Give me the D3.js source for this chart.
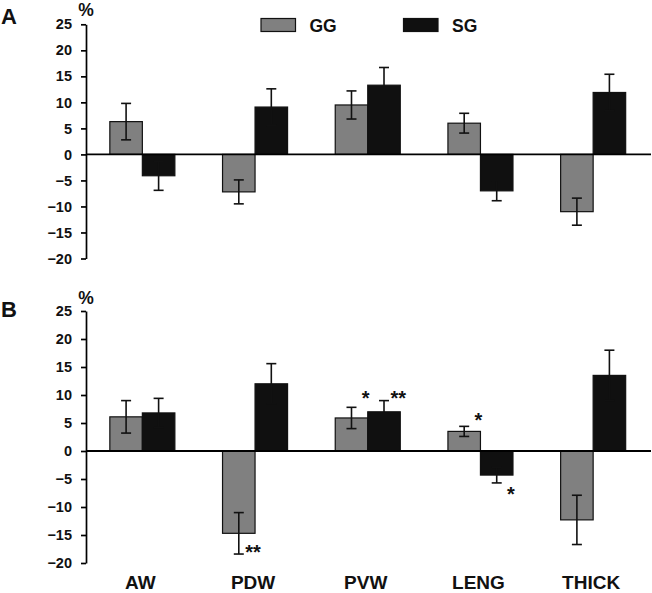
<!DOCTYPE html>
<html><head><meta charset="utf-8">
<script src="https://cdn.jsdelivr.net/npm/d3@7/dist/d3.min.js"></script>
<style>
html,body{margin:0;padding:0;background:#fff;}
svg{display:block;font-family:"Liberation Sans",Arial,sans-serif;font-weight:bold;}
</style></head>
<body>
<svg id="chart" width="652" height="593"></svg>
<script>
// ---- data ----
const categories = ["AW", "PDW", "PVW", "LENG", "THICK"];
const seriesNames = ["GG", "SG"];
const yTicks = [25, 20, 15, 10, 5, 0, -5, -10, -15, -20];

// Panel A
const ggA    = [6.3, -7.2, 9.5, 6.0, -11.0];
const ggAErr = [3.5, 2.3, 2.7, 1.9, 2.6];
const sgA    = [-4.1, 9.1, 13.3, -7.0, 11.9];
const sgAErr = [2.8, 3.5, 3.4, 1.9, 3.5];

// Panel B
const ggB    = [6.1, -14.7, 5.9, 3.5, -12.3];
const ggBErr = [2.9, 3.7, 1.9, 0.9, 4.4];
const sgB    = [6.8, 12.0, 7.0, -4.3, 13.5];
const sgBErr = [2.6, 3.6, 2.0, 1.4, 4.5];

// significance marks in panel B
const sigCats   = ["PDW", "PVW", "PVW", "LENG", "LENG"];
const sigSeries = ["GG", "GG", "SG", "GG", "SG"];
const sigLabels = ["**", "*", "**", "*", "*"];

// ---- layout ----
const svg = d3.select("#chart");
const colors = {GG: "#808080", SG: "#101010"};
const axisX = 86;
const x = d3.scaleBand().domain(categories).range([axisX, 649.5])
  .paddingInner(0.423).paddingOuter(0.2115);
const xs = d3.scaleBand().domain(seriesNames).range([0, x.bandwidth()]);

function drawPanel(cfg) {
  const y = d3.scaleLinear().domain([-20, 25]).range(cfg.yRange);
  const g = svg.append("g");

  // y axis
  const ax = g.append("g").attr("transform", `translate(${axisX},0)`)
    .call(d3.axisLeft(y).tickValues(yTicks).tickSize(5).tickSizeOuter(0).tickPadding(9));
  ax.select(".domain").attr("stroke", "#000").attr("stroke-width", 1.7);
  ax.selectAll(".tick line").attr("stroke", "#000").attr("stroke-width", 1.7);
  ax.selectAll(".tick text").attr("fill", "#111").style("font-size", "14.5px")
    .style("font-family", "'Liberation Sans',Arial,sans-serif").style("font-weight", "bold");

  // % label
  g.append("text").attr("x", axisX).attr("y", cfg.pctY).attr("text-anchor", "middle")
    .style("font-size", "17.5px").attr("fill", "#111").text("%");
  // panel letter
  g.append("text").attr("x", 1).attr("y", cfg.letterY)
    .style("font-size", "22px").attr("fill", "#111").text(cfg.letter);

  const rows = [];
  categories.forEach((c, i) => {
    rows.push({cat: c, s: "GG", v: cfg.gg[i], e: cfg.ggErr[i]});
    rows.push({cat: c, s: "SG", v: cfg.sg[i], e: cfg.sgErr[i]});
  });

  // bars
  g.selectAll("rect.bar").data(rows).enter().append("rect")
    .attr("x", d => x(d.cat) + xs(d.s))
    .attr("width", xs.bandwidth())
    .attr("y", d => y(Math.max(0, d.v)))
    .attr("height", d => Math.abs(y(d.v) - y(0)))
    .attr("fill", d => colors[d.s])
    .attr("stroke", "#111").attr("stroke-width", 1.2);

  // zero line
  g.append("line").attr("x1", axisX).attr("x2", 651)
    .attr("y1", y(0)).attr("y2", y(0)).attr("stroke", "#000").attr("stroke-width", 1.8);

  // error bars
  const eb = g.selectAll("g.err").data(rows).enter().append("g")
    .attr("stroke", "#111").attr("stroke-width", 1.6);
  const cx = d => x(d.cat) + xs(d.s) + xs.bandwidth() / 2;
  eb.append("line").attr("x1", cx).attr("x2", cx)
    .attr("y1", d => y(d.v + d.e)).attr("y2", d => y(d.v - d.e));
  eb.append("line").attr("x1", d => cx(d) - 5).attr("x2", d => cx(d) + 5)
    .attr("y1", d => y(d.v + d.e)).attr("y2", d => y(d.v + d.e));
  eb.append("line").attr("x1", d => cx(d) - 5).attr("x2", d => cx(d) + 5)
    .attr("y1", d => y(d.v - d.e)).attr("y2", d => y(d.v - d.e));

  return {g, y, rows};
}

// Panel A
const A = drawPanel({gg: ggA, ggErr: ggAErr, sg: sgA, sgErr: sgAErr,
  yRange: [258.5, 24.3], letter: "A", letterY: 23.5, pctY: 15.5});

// Legend
seriesNames.forEach((s, i) => {
  const lx = [261, 403.5][i];
  A.g.append("rect").attr("x", lx).attr("y", 18.5).attr("width", 34.5).attr("height", 13)
    .attr("fill", colors[s]).attr("stroke", "#111").attr("stroke-width", 1.2);
  A.g.append("text").attr("x", lx + 48.5).attr("y", 31.5)
    .style("font-size", "17.5px").attr("fill", "#111").text(s);
});

// Panel B
const B = drawPanel({gg: ggB, ggErr: ggBErr, sg: sgB, sgErr: sgBErr,
  yRange: [563, 311], letter: "B", letterY: 316.5, pctY: 304});

// category labels
categories.forEach(c => {
  B.g.append("text").attr("x", x(c) + x.bandwidth() / 2 - 2).attr("y", 589)
    .attr("text-anchor", "middle").style("font-size", "19px").attr("fill", "#111").text(c);
});

// significance marks (offsets relative to error-bar ends)
const sigOffsets = [{end: "low", dy: -6}, {end: "high", dy: -13}, {end: "high", dy: -7},
                    {end: "high", dy: -10}, {end: "low", dy: 7}];
sigLabels.forEach((lab, i) => {
  const d = B.rows.find(r => r.cat === sigCats[i] && r.s === sigSeries[i]);
  const o = sigOffsets[i];
  const yEnd = B.y(o.end === "high" ? d.v + d.e : d.v - d.e);
  const xr = x(d.cat) + xs(d.s) + xs.bandwidth() - 2;
  B.g.append("text").attr("x", xr).attr("y", yEnd + o.dy + 11)
    .attr("text-anchor", "middle").style("font-size", "20px").attr("fill", "#111").text(lab);
});
</script>
</body></html>
